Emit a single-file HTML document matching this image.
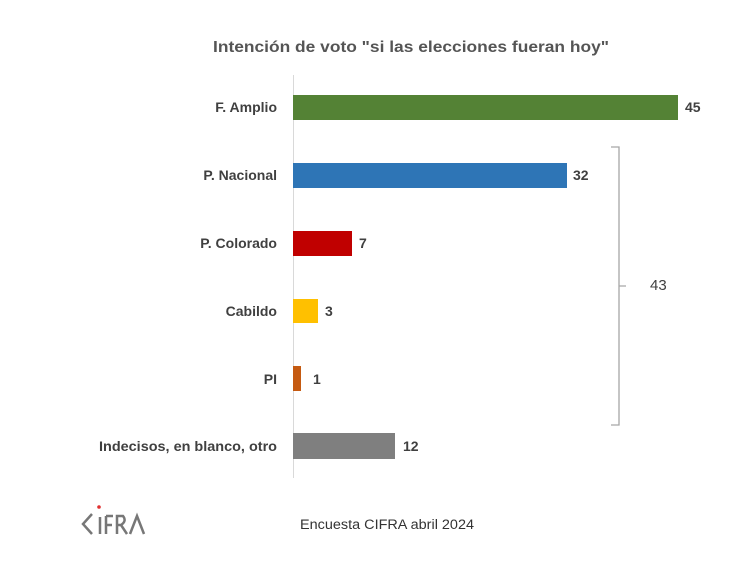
<!DOCTYPE html>
<html><head><meta charset="utf-8"><style>
html,body{margin:0;padding:0;background:#fff;width:754px;height:567px;overflow:hidden}
text{font-family:"Liberation Sans",sans-serif}
</style></head><body>
<svg width="754" height="567" viewBox="0 0 754 567" xmlns="http://www.w3.org/2000/svg">
<rect width="754" height="567" fill="#fff"/>
<text x="411" y="52" text-anchor="middle" font-size="15.5" font-weight="bold" fill="#555" textLength="396" lengthAdjust="spacingAndGlyphs">Intención de voto "si las elecciones fueran hoy"</text>
<line x1="293.5" y1="75" x2="293.5" y2="478" stroke="#d9d9d9" stroke-width="1"/>
<g font-size="14" font-weight="bold" fill="#404040">
<rect x="293" y="95" width="385" height="25" fill="#548235"/>
<text x="277" y="112" text-anchor="end">F. Amplio</text><text x="685" y="112">45</text>
<rect x="293" y="163" width="274" height="25" fill="#2e75b6"/>
<text x="277" y="180" text-anchor="end">P. Nacional</text><text x="573" y="180">32</text>
<rect x="293" y="231" width="59" height="25" fill="#c00000"/>
<text x="277" y="248" text-anchor="end">P. Colorado</text><text x="359" y="248">7</text>
<rect x="293" y="299" width="25" height="24" fill="#ffc000"/>
<text x="277" y="316" text-anchor="end">Cabildo</text><text x="325" y="316">3</text>
<rect x="293" y="366" width="8" height="25" fill="#c55a11"/>
<text x="277" y="384" text-anchor="end">PI</text><text x="313" y="384">1</text>
<rect x="293" y="433" width="102" height="26" fill="#7f7f7f"/>
<text x="277" y="451" text-anchor="end" textLength="178" lengthAdjust="spacingAndGlyphs">Indecisos, en blanco, otro</text><text x="403" y="451">12</text>
</g>
<path d="M611 147 H619 V425 H611 M619 286 H626" fill="none" stroke="#a6a6a6" stroke-width="1.3"/>
<text x="650" y="290" font-size="15" fill="#404040">43</text>
<g fill="none" stroke="#777" stroke-width="2.5">
<path d="M92 514 L83 524 L92 534"/>
<path d="M100 517 V534 M106 516 V534 M106 516 H113 M106 525 H112 M117 534 V516 H123 Q127 521 121 525 H117 M121 525 L127 534 M130 534 L137 516 L144 534"/>
</g>
<circle cx="99" cy="507" r="1.8" fill="#e03030"/>
<text x="300" y="529" font-size="13.5" fill="#333" textLength="174" lengthAdjust="spacingAndGlyphs">Encuesta CIFRA abril 2024</text>
</svg>
</body></html>
